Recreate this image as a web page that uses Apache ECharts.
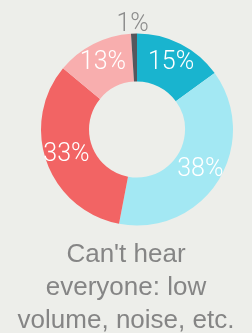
<!DOCTYPE html>
<html>
<head>
<meta charset="utf-8">
<script src="https://cdn.jsdelivr.net/npm/echarts@6/dist/echarts.min.js"></script>
<style>
  html, body { margin: 0; padding: 0; background: #edeeea; }
  #chart { width: 252px; height: 333px; }
</style>
</head>
<body>
<div id="chart"></div>
<script>
// slices, clockwise from 12 o'clock
const labels = ['Teal', 'Light', 'Red', 'Pink', 'Gray'];
const values = [15, 38, 33, 13, 1];
const colors = ['#19b4cf', '#a3e8f3', '#f26464', '#f8aeae', '#55575d'];
const titleText = "Can't hear\neveryone: low\nvolume, noise, etc.";

const chart = echarts.init(document.getElementById('chart'), null, { renderer: 'canvas' });

chart.setOption({
    backgroundColor: '#edeeea',
    animation: false,
    title: {
        text: titleText,
        left: 'center',
        top: 233,
        textStyle: {
            color: '#858585',
            fontFamily: 'Liberation Sans',
            fontWeight: 'normal',
            fontSize: 26,
            lineHeight: 33,
        },
    },
    series: [{
        type: 'pie',
        center: [137, 129.5],
        radius: [48, 96],
        startAngle: 90,
        clockwise: true,
        silent: true,
        label: {
            show: true,
            position: 'inside',
            formatter: '{c}%',
            color: '#fff',
            fontFamily: 'Roboto',
            fontWeight: 300,
            fontSize: 25,
        },
        labelLine: { show: false },
        data: values.map((v, i) => ({
            name: labels[i],
            value: v,
            itemStyle: { color: colors[i] },
            label: i === 4 ? { color: '#8c8c8c', offset: [-2, -30] } : undefined,
        })),
    }],
});
</script>
</body>
</html>
